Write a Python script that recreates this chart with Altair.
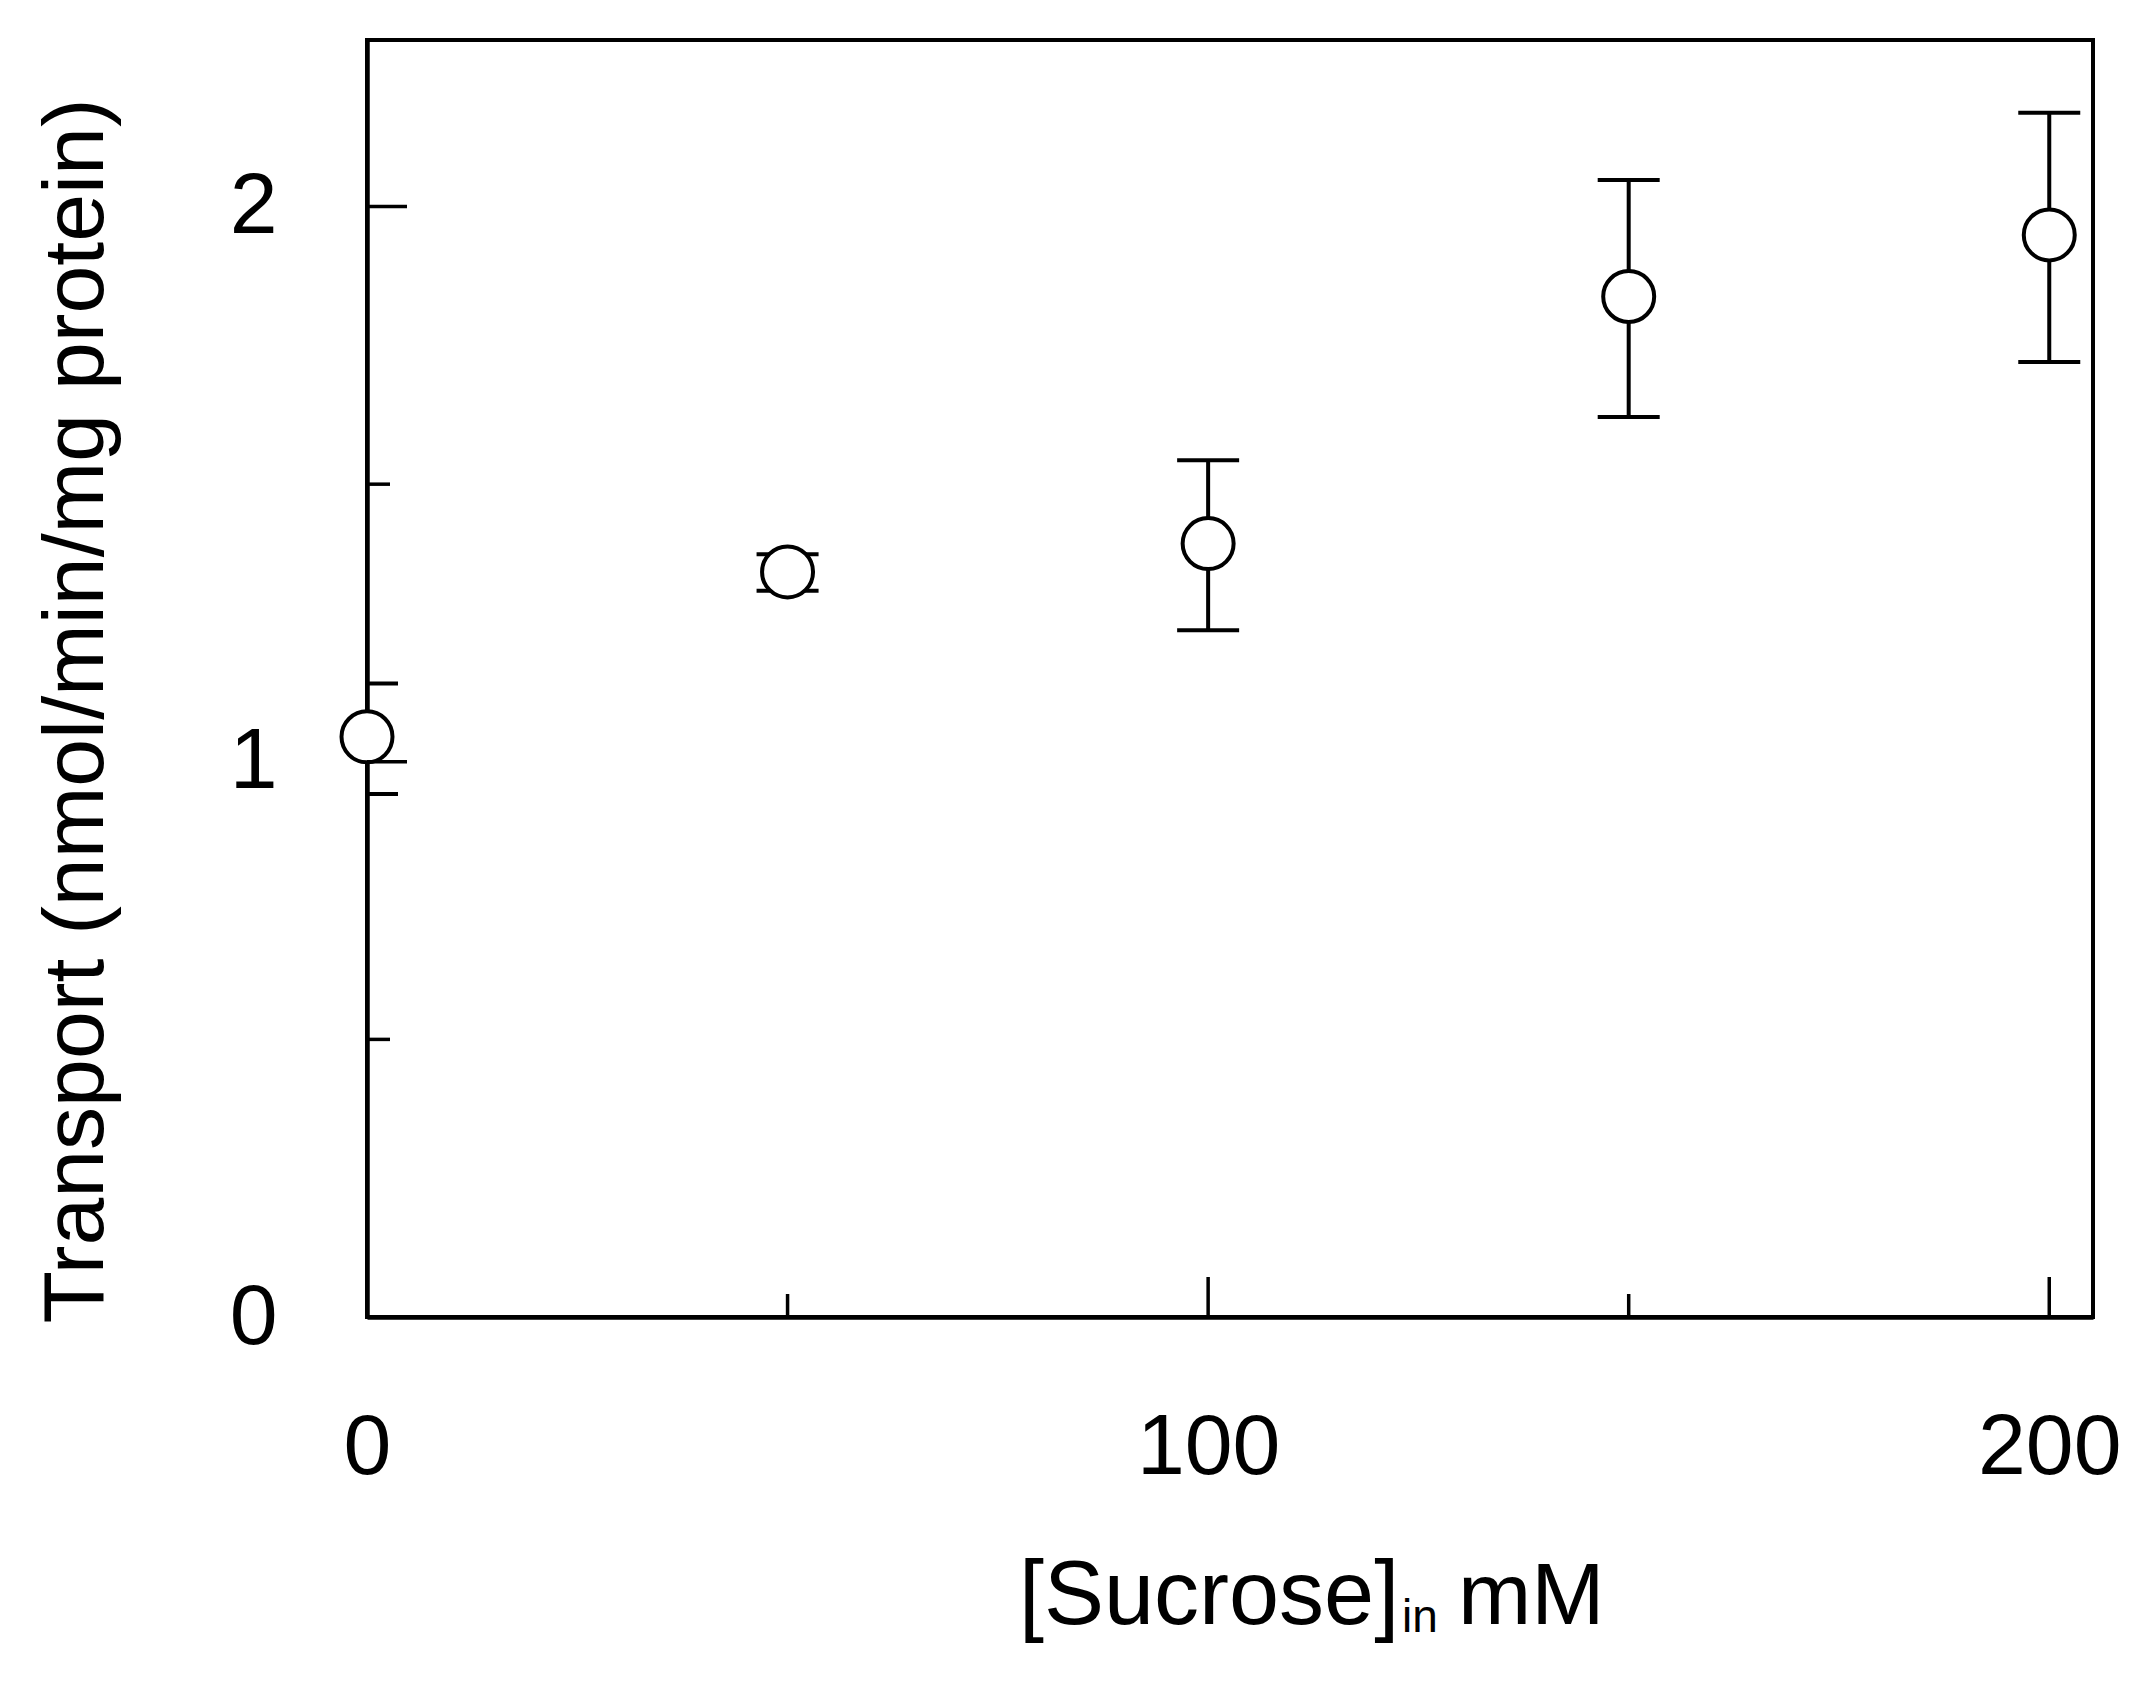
import altair as alt
import pandas as pd

# ---- data ----
conc = [0, 50, 100, 150, 200]
transport = [1.045, 1.342, 1.393, 1.838, 1.949]
err_low = [0.942, 1.308, 1.237, 1.621, 1.720]
err_high = [1.141, 1.374, 1.543, 2.048, 2.169]

x_major = [0, 100, 200]
x_minor = [50, 150]
y_major = [0, 1, 2]
y_minor = [0.5, 1.5]

x_title_main = ["[Sucrose]"]
x_title_sub = ["in"]
x_title_unit = ["mM"]
y_title = ["Transport (nmol/min/mg protein)"]

X_DOMAIN = [0, 205.2]
Y_DOMAIN = [0, 2.3]
W, H = 1726, 1277
FONT = "Liberation Sans"
FS = 86
LW = 4

df = pd.DataFrame({"x": conc, "y": transport, "lo": err_low, "hi": err_high})

xs = alt.Scale(domain=X_DOMAIN, nice=False, zero=False)
ys = alt.Scale(domain=Y_DOMAIN, nice=False, zero=False)

xaxis = alt.Axis(values=x_major, title=None, grid=False, ticks=False,
                 labelFontSize=FS, labelFont=FONT, labelColor="black",
                 labelPadding=156, labelBaseline="alphabetic", labelFlush=False,
                 labelOverlap=False, domain=True, domainColor="black", domainWidth=4.5)
yaxis = alt.Axis(values=y_major, title=None, grid=False, ticks=False,
                 labelFontSize=FS, labelFont=FONT, labelColor="black",
                 labelPadding=90, labelBaseline="middle", labelFlush=False,
                 labelOverlap=False, domain=True, domainColor="black", domainWidth=4.5,
                 format="d")


def X(field):
    return alt.X(field, type="quantitative", scale=xs, axis=xaxis, title=None)


def Y(field):
    return alt.Y(field, type="quantitative", scale=ys, axis=yaxis, title=None)


bars = alt.Chart(df).mark_rule(strokeWidth=LW, color="black").encode(
    x=X("x"), y=Y("lo"), y2="hi:Q",
)
cap_lo = alt.Chart(df).mark_tick(orient="horizontal", size=62, thickness=LW,
                                 color="black", opacity=1, clip=True).encode(
    x=X("x"), y=Y("lo"),
)
cap_hi = alt.Chart(df).mark_tick(orient="horizontal", size=62, thickness=LW,
                                 color="black", opacity=1, clip=True).encode(
    x=X("x"), y=Y("hi"),
)
points = alt.Chart(df).mark_point(shape="circle", filled=True, fill="white",
                                  stroke="black", strokeWidth=LW, size=2600,
                                  opacity=1).encode(
    x=X("x"), y=Y("y"),
)

# inward ticks
xt_major = alt.Chart(pd.DataFrame({"x": x_major})).mark_rule(strokeWidth=3.5, color="black").encode(
    x=X("x"), y=alt.value(H), y2=alt.value(H - 40))
xt_minor = alt.Chart(pd.DataFrame({"x": x_minor})).mark_rule(strokeWidth=3.5, color="black").encode(
    x=X("x"), y=alt.value(H), y2=alt.value(H - 23))
yt_major = alt.Chart(pd.DataFrame({"y": y_major})).mark_rule(strokeWidth=3.5, color="black").encode(
    y=Y("y"), x=alt.value(0), x2=alt.value(40))
yt_minor = alt.Chart(pd.DataFrame({"y": y_minor})).mark_rule(strokeWidth=3.5, color="black").encode(
    y=Y("y"), x=alt.value(0), x2=alt.value(23))

# titles
t_main = alt.Chart(pd.DataFrame({"s": x_title_main})).mark_text(
    font=FONT, fontSize=90, align="left", baseline="alphabetic", color="black").encode(
    text="s:N", x=alt.value(652), y=alt.value(1584))
t_sub = alt.Chart(pd.DataFrame({"s": x_title_sub})).mark_text(
    font=FONT, fontSize=46, align="left", baseline="alphabetic", color="black").encode(
    text="s:N", x=alt.value(1035), y=alt.value(1592))
t_unit = alt.Chart(pd.DataFrame({"s": x_title_unit})).mark_text(
    font=FONT, fontSize=88, align="left", baseline="alphabetic", color="black").encode(
    text="s:N", x=alt.value(1091), y=alt.value(1584))
t_y = alt.Chart(pd.DataFrame({"s": y_title})).mark_text(
    font=FONT, fontSize=FS, align="center", baseline="alphabetic", angle=270,
    color="black").encode(
    text="s:N", x=alt.value(-264), y=alt.value(671))

chart = alt.layer(
    bars, cap_lo, cap_hi, points,
    xt_major, xt_minor, yt_major, yt_minor,
    t_main, t_sub, t_unit, t_y,
).properties(
    width=W, height=H,
    autosize=alt.AutoSizeParams(type="none"),
    padding={"left": 359, "top": 32, "right": 48, "bottom": 375},
    background="white",
).configure_view(
    stroke="black", strokeWidth=4
)

chart.save("out.html", embed_options={"renderer": "svg", "actions": False})
